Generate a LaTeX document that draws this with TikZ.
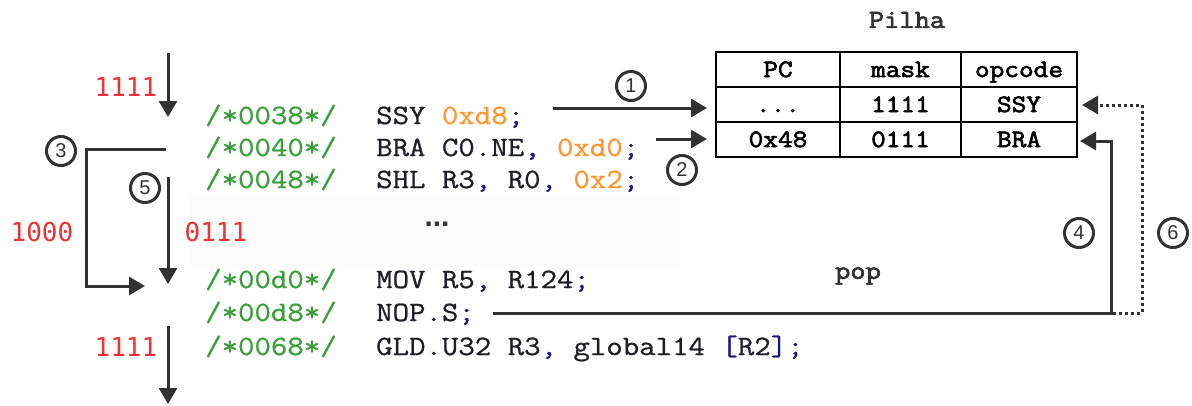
\documentclass[tikz,border=0pt]{standalone}
\usepackage{fontspec}
\setmainfont{Liberation Serif}
\newfontfamily\codefont[FakeStretch=1.14,FakeBold=0.8]{Latin Modern Mono}
\newfontfamily\tabfont[FakeStretch=1.14,FakeBold=2.6]{Latin Modern Mono}
\newfontfamily\redfont{DejaVu Sans Mono}
\newfontfamily\numfont{Liberation Sans}
\usetikzlibrary{arrows.meta}
\definecolor{cgreen}{RGB}{58,158,58}
\definecolor{corange}{RGB}{255,150,50}
\definecolor{cnavy}{RGB}{20,20,130}
\definecolor{cred}{RGB}{235,50,55}
\definecolor{cdark}{RGB}{50,50,50}
\definecolor{cop}{RGB}{30,30,40}
\newcommand{\cN}[1]{\textcolor{corange}{#1}}
\newcommand{\cP}[1]{\textcolor{cnavy}{#1}}
\tikzset{
  codestyle/.style={font=\codefont\fontsize{28}{33}\selectfont},
  cmt/.style={codestyle, anchor=base west, inner sep=0pt, text=cgreen},
  ins/.style={codestyle, anchor=base west, inner sep=0pt, text=cop},
  redlbl/.style={font=\redfont\fontsize{26}{26}\selectfont, text=cred, inner sep=0pt},
  cell/.style={draw=black, line width=1.8pt, minimum height=35pt, inner sep=0pt,
    text height=15pt, text depth=0pt,
    font=\tabfont\fontsize{25}{30}\selectfont},
  circnum/.style={draw=cdark, circle, line width=3pt, minimum size=29pt, inner sep=0pt,
    text=cdark, font=\numfont\fontsize{20}{20}\selectfont},
  arr/.style={draw=cdark, line width=3pt, -{Triangle[length=16pt,width=18pt]}},
  dotarr/.style={draw=cdark, line width=3pt, dash pattern=on 3pt off 3pt, -{Triangle[length=16pt,width=18pt]}},
  title/.style={font=\tabfont\fontsize{26}{26}\selectfont, text=cdark, inner sep=0pt}
}
\begin{document}
\begin{tikzpicture}[x=1pt,y=-1pt]
\useasboundingbox (0,0) rectangle (1192,405);
% faint background band
\fill[black!1] (190,195) rectangle (680,265);

% code lines
\node[cmt] (c1) at (205,124) {/*0038*/};
\node[ins] (i1) at (376,124) {SSY \cN{0xd8}\cP{;}};
\node[cmt] (c2) at (205,156) {/*0040*/};
\node[ins] (i2) at (376,156) {BRA C0.NE\cP{,} \cN{0xd0}\cP{;}};
\node[cmt] (c3) at (205,188) {/*0048*/};
\node[ins] (i3) at (376,188) {SHL R3\cP{,} R0\cP{,} \cN{0x2}\cP{;}};
\node[font=\numfont\bfseries\fontsize{30}{30}\selectfont, text=cdark, inner sep=0pt] (dots) at (437,224) {...};
\node[cmt] (c4) at (205,288) {/*00d0*/};
\node[ins] (i4) at (376,288) {MOV R5\cP{,} R124\cP{;}};
\node[cmt] (c5) at (205,321) {/*00d8*/};
\node[ins] (i5) at (376,321) {NOP.S\cP{;}};
\node[cmt] (c6) at (205,355) {/*0068*/};
\node[ins] (i6) at (376,355) {GLD.U32 R3\cP{,} global14 \cP{[}R2\cP{]}\cP{;}};

% red mask labels
\node[redlbl] (m1) at (126,87) {1111};
\node[redlbl] (m2) at (42,232) {1000};
\node[redlbl] (m3) at (216,232) {0111};
\node[redlbl] (m4) at (126,347) {1111};

% table
\node[title] (pilha) at (907,20) {Pilha};
\node[cell, minimum width=124pt] (h1) at (778,69.5) {PC};
\node[cell, minimum width=121pt] (h2) at (900.5,69.5) {mask};
\node[cell, minimum width=116pt] (h3) at (1019,69.5) {opcode};
\node[cell, minimum width=124pt] (r11) at (778,104.5) {...};
\node[cell, minimum width=121pt] (r12) at (900.5,104.5) {1111};
\node[cell, minimum width=116pt] (r13) at (1019,104.5) {SSY};
\node[cell, minimum width=124pt] (r21) at (778,139.5) {0x48};
\node[cell, minimum width=121pt] (r22) at (900.5,139.5) {0111};
\node[cell, minimum width=116pt] (r23) at (1019,139.5) {BRA};

\node[title] (pop) at (858,276) {pop};

% circled numbers
\node[circnum] (n1) at (631,86) {1};
\node[circnum] (n2) at (682,170) {2};
\node[circnum] (n3) at (61,151) {3};
\node[circnum] (n4) at (1079,233) {4};
\node[circnum] (n5) at (145,188) {5};
\node[circnum] (n6) at (1173,233) {6};

% coordinates for connectors
\coordinate (t0) at (168,53);
\coordinate (t1) at (168,117);
\coordinate (a3s) at (166,149);
\coordinate (a3e) at (145,286);
\coordinate (a5s) at (168,177);
\coordinate (a5e) at (168,284);
\coordinate (b0) at (168,326);
\coordinate (b1) at (168,404);
\coordinate (a1s) at (553,108);
\coordinate (a1e) at (707,108);
\coordinate (a2s) at (656,139);
\coordinate (a2e) at (707,139);
\coordinate (a4s) at (493,313);
\coordinate (a4c) at (1111,141);
\coordinate (a4e) at (1080,141);
\coordinate (d6s) at (1113,313);
\coordinate (d6c) at (1142,105);
\coordinate (d6e) at (1082,105);

\draw[arr] (t0) -- (t1);
\draw[arr] (a3s) -- ++(-80,0) |- (a3e);
\draw[arr] (a5s) -- (a5e);
\draw[arr] (b0) -- (b1);
\draw[arr] (a1s) -- (a1e);
\draw[arr] (a2s) -- (a2e);
\draw[arr] (a4s) -| (a4c) -- (a4e);
\draw[dotarr] (d6s) -| (d6c) -- (d6e);
\end{tikzpicture}
\end{document}
